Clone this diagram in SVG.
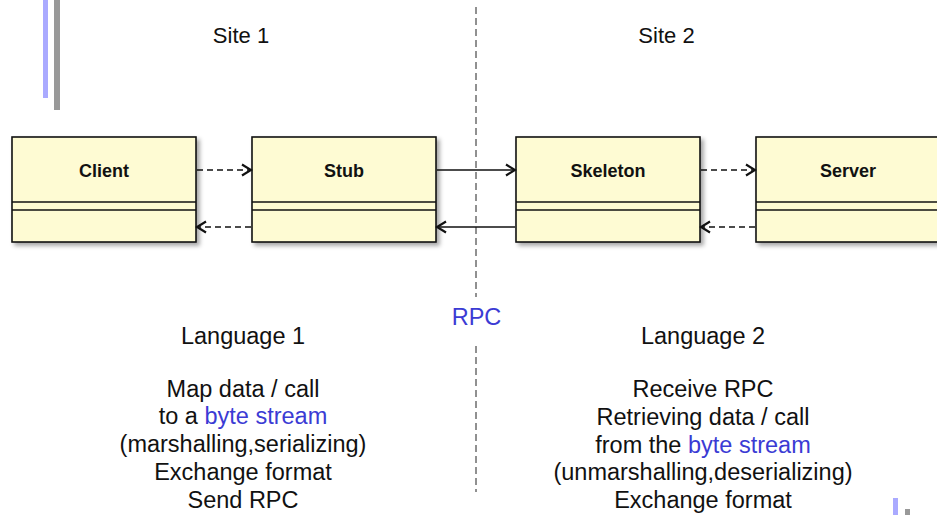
<svg xmlns="http://www.w3.org/2000/svg" width="937" height="515" viewBox="0 0 937 515">
<style>
.t{font-family:"Liberation Sans",Arial,sans-serif;font-size:23.5px;fill:#111;text-anchor:middle}
.site{font-size:22px}
.blue{fill:#3b3bd4}
.lbl{font-family:"Liberation Sans",Arial,sans-serif;font-size:18px;font-weight:bold;fill:#111;text-anchor:middle}
.box{fill:#fefbd3;stroke:#111;stroke-width:1.6}
.div{stroke:#111;stroke-width:1.6}
.c{fill:none;stroke:#111;stroke-width:1.6}
.d{stroke-dasharray:6,4}
</style>
<defs>
<filter id="sh" x="-10%" y="-10%" width="130%" height="130%">
<feDropShadow dx="3" dy="3" stdDeviation="2" flood-color="#000" flood-opacity="0.35"/>
</filter>
<marker id="ah" viewBox="0 0 14 14" refX="12" refY="7" markerWidth="14" markerHeight="14" markerUnits="userSpaceOnUse" orient="auto">
<path d="M3,1.5 L12,7 L3,12.5" fill="none" stroke="#111" stroke-width="2.2" stroke-linejoin="miter"/>
</marker>
</defs>
<rect x="43" y="0" width="5" height="98" fill="#aaaaff"/>
<rect x="54" y="0" width="6" height="110" fill="#999"/>
<rect x="893" y="498" width="5" height="17" fill="#aaaaff"/>
<rect x="905" y="509" width="5" height="6" fill="#999"/>
<line x1="476" y1="7" x2="476" y2="297" stroke="#222" stroke-width="1" stroke-dasharray="7,4"/>
<line x1="476" y1="346" x2="476" y2="492" stroke="#222" stroke-width="1" stroke-dasharray="7,4"/>
<text class="t site" x="241" y="43">Site 1</text>
<text class="t site" x="666.5" y="43">Site 2</text>
<text class="t blue" x="476.5" y="325">RPC</text>
<g id="client">
<rect class="box" x="12" y="137" width="184" height="105" filter="url(#sh)"/>
<line class="div" x1="12" y1="202" x2="196" y2="202"/>
<line class="div" x1="12" y1="210" x2="196" y2="210"/>
<text class="lbl" x="104" y="177">Client</text>
</g>
<g id="stub">
<rect class="box" x="252" y="137" width="184" height="105" filter="url(#sh)"/>
<line class="div" x1="252" y1="202" x2="436" y2="202"/>
<line class="div" x1="252" y1="210" x2="436" y2="210"/>
<text class="lbl" x="344" y="177">Stub</text>
</g>
<g id="skeleton">
<rect class="box" x="516" y="137" width="184" height="105" filter="url(#sh)"/>
<line class="div" x1="516" y1="202" x2="700" y2="202"/>
<line class="div" x1="516" y1="210" x2="700" y2="210"/>
<text class="lbl" x="608" y="177">Skeleton</text>
</g>
<g id="server">
<rect class="box" x="756" y="137" width="184" height="105" filter="url(#sh)"/>
<line class="div" x1="756" y1="202" x2="940" y2="202"/>
<line class="div" x1="756" y1="210" x2="940" y2="210"/>
<text class="lbl" x="848" y="177">Server</text>
</g>
<g id="connectors">
<line class="c d" x1="197" y1="170" x2="251" y2="170" marker-end="url(#ah)"/>
<line class="c" x1="437" y1="170" x2="515" y2="170" marker-end="url(#ah)"/>
<line class="c d" x1="701" y1="170" x2="755" y2="170" marker-end="url(#ah)"/>
<line class="c d" x1="251" y1="227" x2="197" y2="227" marker-end="url(#ah)"/>
<line class="c" x1="515" y1="227" x2="437" y2="227" marker-end="url(#ah)"/>
<line class="c d" x1="755" y1="227" x2="701" y2="227" marker-end="url(#ah)"/>
</g>
<g id="left-text">
<text class="t" x="243" y="344">Language 1</text>
<text class="t" x="243" y="397">Map data / call</text>
<text class="t" x="243" y="424">to a <tspan class="blue">byte stream</tspan></text>
<text class="t" x="243" y="452">(marshalling,serializing)</text>
<text class="t" x="243" y="480">Exchange format</text>
<text class="t" x="243" y="508">Send RPC</text>
</g>
<g id="right-text">
<text class="t" x="703" y="344">Language 2</text>
<text class="t" x="703" y="397">Receive RPC</text>
<text class="t" x="703" y="425">Retrieving data / call</text>
<text class="t" x="703" y="453">from the <tspan class="blue">byte stream</tspan></text>
<text class="t" x="703" y="480">(unmarshalling,deserializing)</text>
<text class="t" x="703" y="508">Exchange format</text>
</g>
</svg>
